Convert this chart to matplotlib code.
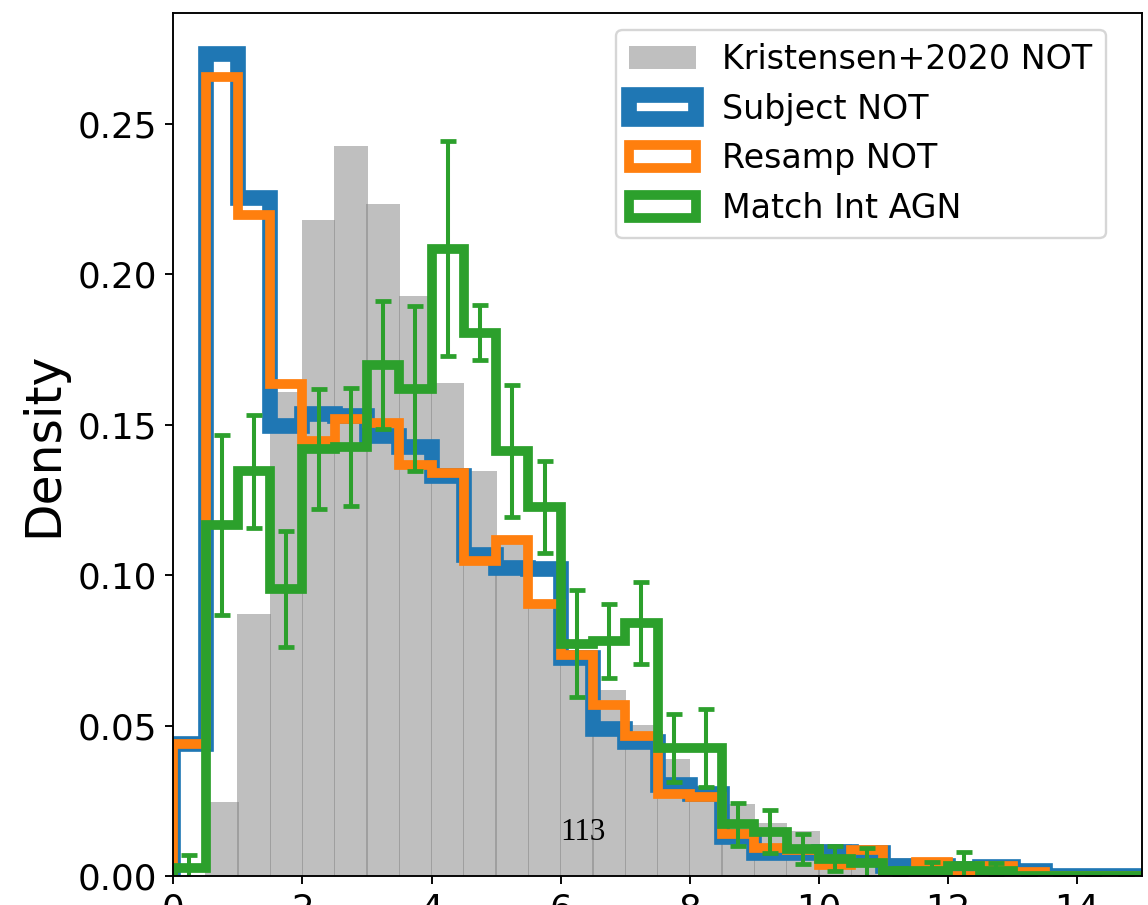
import matplotlib.pyplot as plt
import numpy as np

# 0.5-wide bins from 0 to 15
edges = np.arange(0, 15.01, 0.5)
centres = 0.5 * (edges[:-1] + edges[1:])

kristensen = [0.0, 0.0247, 0.0871, 0.1607, 0.2181, 0.2427, 0.2234, 0.1928, 0.1639, 0.1346,
              0.111, 0.091, 0.072, 0.0618, 0.0502, 0.0389, 0.028, 0.0239, 0.0177, 0.015,
              0.0106, 0.009, 0.0059, 0.005, 0.004, 0.0035, 0.003, 0.002, 0.0015, 0.001]

subject = [0.044, 0.2731, 0.2254, 0.1495, 0.1536, 0.1529, 0.1462, 0.1426, 0.1329, 0.1067,
           0.1024, 0.1019, 0.0726, 0.0488, 0.0444, 0.0301, 0.0273, 0.0129, 0.0077, 0.0075,
           0.008, 0.0075, 0.0035, 0.0035, 0.0025, 0.003, 0.0018, 0.0, 0.0, 0.0]

resamp = [0.044, 0.2655, 0.2197, 0.1635, 0.1447, 0.1519, 0.1506, 0.1367, 0.1339, 0.1047,
          0.1117, 0.0903, 0.0733, 0.0568, 0.0466, 0.0272, 0.0262, 0.0141, 0.0093, 0.0085,
          0.0036, 0.0088, 0.0015, 0.0045, 0.0, 0.0032, 0.0015, 0.0, 0.0, 0.0]

match_agn = [0.0027, 0.1166, 0.1345, 0.0955, 0.142, 0.1426, 0.1698, 0.162, 0.2085, 0.1806,
             0.1412, 0.1226, 0.0772, 0.0782, 0.0841, 0.0426, 0.0426, 0.0172, 0.0147, 0.009,
             0.0058, 0.0044, 0.0018, 0.0018, 0.0035, 0.0018, 0.0, 0.0, 0.0, 0.0]

match_err = [0.0043, 0.030, 0.0187, 0.0193, 0.020, 0.0195, 0.0212, 0.0273, 0.0357, 0.0092,
             0.022, 0.0152, 0.0177, 0.0123, 0.0136, 0.0112, 0.0129, 0.0072, 0.0072, 0.005,
             0.0041, 0.0049, 0.001, 0.003, 0.0046, 0.0026, 0.0, 0.0, 0.0, 0.0]

labels = ['Kristensen+2020 NOT', 'Subject NOT', 'Resamp NOT', 'Match Int AGN']
n_label = '113'

dpi = 171
fig = plt.figure(figsize=(1148 / dpi, 905 / dpi), dpi=dpi)
ax = fig.add_axes([0.151, 0.032, 0.8435, 0.9533])

# translucent bars a touch wider than the bin, so neighbours overlap in a thin seam
bars = ax.bar(centres, kristensen, width=0.52, color='gray', alpha=0.5)
_, _, p_sub = ax.hist(centres, bins=edges, weights=subject, histtype='step',
                      lw=6.6, color='C0')
_, _, p_res = ax.hist(centres, bins=edges, weights=resamp, histtype='step',
                      lw=4.1, color='C1')
_, _, p_agn = ax.hist(centres, bins=edges, weights=match_agn, histtype='step',
                      lw=4.1, color='C2')
ax.errorbar(centres, match_agn, yerr=match_err, fmt='none', ecolor='C2',
            elinewidth=1.7, capsize=3.2, capthick=2)

ax.text(6.0, 0.012, n_label, family='Liberation Serif', fontsize=13)

ax.set_xlim(0, 15)
ax.set_ylim(0, 0.2867)
ax.set_ylabel('Density', fontsize=20.5)
ax.tick_params(labelsize=15)
ax.legend([bars, p_sub[0], p_res[0], p_agn[0]], labels, loc='upper right',
          bbox_to_anchor=(0.963, 0.981), borderaxespad=0, fontsize=14)

fig.savefig('out.png', dpi=dpi)
